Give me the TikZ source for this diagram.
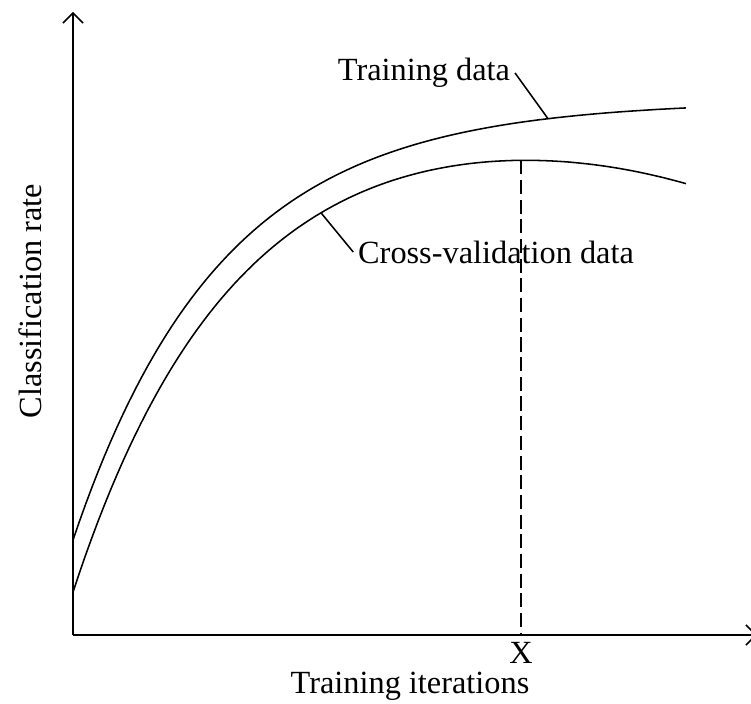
\documentclass[tikz,border=0pt]{standalone}
\usepackage{fontspec}
\setmainfont{Liberation Serif}
\usetikzlibrary{arrows.meta, positioning}
\tikzset{
  axisline/.style = {-{Straight Barb[length=2.5mm, width=5mm]}, line width=1.1pt, black},
  curve/.style    = {line width=1.1pt, black},
  leader/.style   = {line width=1.1pt, black},
  peakline/.style = {dash pattern=on 10pt off 4pt, line width=1pt, black},
  lbl/.style      = {font=\fontsize{23}{27}\selectfont},
  declare function={trainf(\t)=13.35-10.975*exp(-\t/3.7);
                    cvf(\t)=13.15-12.075*exp(-\t/3.95)-0.0002*\t^3.3;},
}
\begin{document}
\begin{tikzpicture}
  \useasboundingbox (-1.825,-1.7) rectangle (16.95,15.875);
  \coordinate (origin) at (0,0);
  \coordinate (ytop) at (0,15.575);
  \coordinate (xend) at (17.1,0);
  \draw[axisline] (origin) -- (ytop);
  \draw[axisline] (origin) -- (xend);
  \draw[curve] plot[domain=0:15.325, samples=100] (\x, {trainf(\x)});
  \draw[curve] plot[domain=0.005:15.325, samples=100] (\x, {cvf(\x)});
  \coordinate (peak) at (11.2, {cvf(11.2)});
  \coordinate (peakfoot) at (11.2,0);
  \draw[peakline] (peak) -- (peakfoot);
  \node[lbl] (xmark) at (11.2,-0.45) {X};
  \node[lbl] (xlabel) at (8.425,-1.275) {Training iterations};
  \node[lbl, rotate=90] (ylabel) at (-1.075,8.35) {Classification rate};
  \node[lbl] (trainlbl) at (8.775,14.05) {Training data};
  \coordinate (traintip) at (11.875, {trainf(11.875)});
  \draw[leader] (trainlbl.east) -- (traintip);
  \node[lbl] (cvlbl) at (10.575,9.575) {Cross-validation data};
  \coordinate (cvtip) at (6.2, {cvf(6.2)});
  \draw[leader] (cvlbl.west) -- (cvtip);
\end{tikzpicture}
\end{document}
